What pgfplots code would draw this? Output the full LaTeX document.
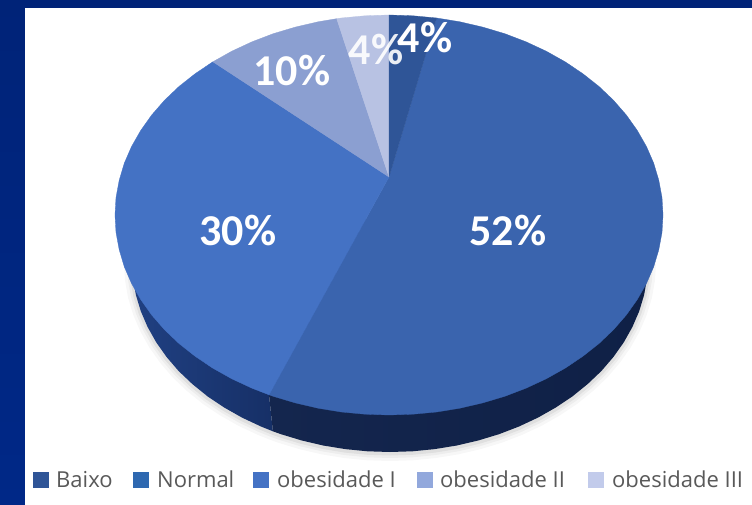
\documentclass[border=0pt]{standalone}
\usepackage{fontspec}
\setmainfont{Carlito}
\newfontfamily\legfont{Open Sans}
\usepackage{pgfplots}
\pgfplotsset{compat=1.18}
\usepackage{pgfplotstable}

\definecolor{navyA}{RGB}{0,35,120}
\definecolor{navyB}{RGB}{0,40,135}
\definecolor{cBaixo}{RGB}{47,85,151}
\definecolor{cNormal}{RGB}{58,100,174}
\definecolor{cObI}{RGB}{68,114,196}
\definecolor{cObII}{RGB}{139,159,209}
\definecolor{cObIII}{RGB}{184,194,227}
\definecolor{legNormal}{RGB}{46,104,176}
\definecolor{legII}{RGB}{146,168,220}
\definecolor{legIII}{RGB}{194,203,235}
\definecolor{sideL}{RGB}{32,64,130}
\definecolor{sideM}{RGB}{14,34,80}
\definecolor{sideR}{RGB}{20,38,78}
\definecolor{sideE}{RGB}{15,32,70}
\definecolor{legtxt}{RGB}{89,89,89}

% lower rim of the pie, pixel coordinates
\pgfplotstableread{
x y
132 262
133 278.6
135.9 295
140.8 311.2
147.6 327
156.2 342.3
166.6 357
178.6 371
192.4 384.1
207.6 396.4
224.2 407.5
242 417.6
261 426.5
272.9 431.3
281 434.2
301.8 440.5
323.2 445.5
345.2 449.1
367.5 451.3
390 452
412.5 451.3
434.8 449.1
456.8 445.5
478.2 440.5
499 434.2
519 426.5
538 417.6
555.8 407.5
572.4 396.4
587.6 384.1
601.4 371
613.4 357
623.8 342.3
632.4 327
639.2 311.2
644.1 295
647 278.6
648 262
}\rimtable

\newcommand{\pct}[1]{\fontsize{44}{44}\selectfont\bfseries #1}
\newcommand{\leg}[1]{\legfont\fontsize{22}{22}\selectfont #1}

\begin{document}
\begin{tikzpicture}
\begin{axis}[
    width=752pt, height=505pt, scale only axis,
    xmin=0, xmax=752, ymin=0, ymax=505,
    y dir=reverse, hide axis,
    every axis plot/.append style={line join=round},
]
% frame and panel
\addplot[draw=none, top color=navyA, bottom color=navyB] coordinates {(0,0)(752,0)(752,505)(0,505)} --cycle;
\addplot[draw=none, fill=white] coordinates {(25,8)(752,8)(752,505)(25,505)} --cycle;

% soft shadow under the rim
\addplot[draw=black, opacity=0.03, line width=16pt] table[x=x, y expr=\thisrow{y}+1] {\rimtable};
\addplot[draw=black, opacity=0.04, line width=10pt] table[x=x, y expr=\thisrow{y}+1] {\rimtable};
\addplot[draw=black, opacity=0.06, line width=5pt] table[x=x, y expr=\thisrow{y}+1] {\rimtable};

% side of the pie
\addplot[draw=none, left color=sideL, right color=sideM] coordinates {
 (389,215)(132,262)(133,278.6)(135.9,295)(140.8,311.2)(147.6,327)(156.2,342.3)(166.6,357)(178.6,371)(192.4,384.1)(207.6,396.4)(224.2,407.5)(242,417.6)(261,426.5)(272.9,431.3)(269,394.8)
} --cycle;
\addplot[draw=none, left color=sideR, right color=sideE] coordinates {
 (269,394.8)(272.9,431.3)(281,434.2)(301.8,440.5)(323.2,445.5)(345.2,449.1)(367.5,451.3)(390,452)(412.5,451.3)(434.8,449.1)(456.8,445.5)(478.2,440.5)(499,434.2)(519,426.5)(538,417.6)(555.8,407.5)(572.4,396.4)(587.6,384.1)(601.4,371)(613.4,357)(623.8,342.3)(632.4,327)(639.2,311.2)(644.1,295)(647,278.6)(648,262)(389,215)
} --cycle;

% top face: Normal
\addplot[fill=cNormal, draw=cNormal, line width=0.3pt] coordinates {
 (389,177)(436.6,18)(459.9,21.8)(482.7,27.1)(504.8,33.7)(526,41.8)(546.2,51.2)(565.1,61.8)(582.7,73.6)(598.9,86.4)(613.5,100.3)(626.3,115)(637.3,130.5)(646.5,146.6)(653.7,163.2)(658.8,180.3)(662,197.6)(663,215)
 (662,232.4)(658.8,249.7)(653.7,266.8)(646.5,283.4)(637.3,299.5)(626.3,315)(613.5,329.7)(598.9,343.6)(582.7,356.4)(565.1,368.2)(546.2,378.8)(526,388.2)(504.8,396.3)(482.7,402.9)(459.9,408.2)(436.6,412)(412.9,414.2)(389,415)(365.1,414.2)(341.4,412)(318.1,408.2)(295.3,402.9)(273.2,396.3)(269,394.8)
} --cycle;
% obesidade I
\addplot[fill=cObI, draw=cObI, line width=0.3pt] coordinates {
 (389,177)(269,394.8)(252,388.2)(231.8,378.8)(212.9,368.2)(195.3,356.4)(179.1,343.6)(164.5,329.7)(151.7,315)(140.7,299.5)(131.5,283.4)(124.3,266.8)(119.2,249.7)(116,232.4)(115,215)(116,197.6)(119.2,180.3)(124.3,163.2)(131.5,146.6)(140.7,130.5)(151.7,115)(164.5,100.3)(179.1,86.4)(195.3,73.6)(212.9,61.8)
} --cycle;
% obesidade II
\addplot[fill=cObII, draw=cObII, line width=0.3pt] coordinates {
 (389,177)(212.9,61.8)(231.8,51.2)(252,41.8)(273.2,33.7)(295.3,27.1)(318.1,21.8)(336.7,18.7)
} --cycle;
% obesidade III
\addplot[fill=cObIII, draw=cObIII, line width=0.3pt] coordinates {
 (389,177)(336.7,18.7)(341.4,18)(365.1,15.8)(389,15)
} --cycle;
% Baixo
\addplot[fill=cBaixo, draw=cBaixo, line width=0.3pt] coordinates {
 (389,177)(389,15)(412.9,15.8)(436.6,18)
} --cycle;

% value labels
\node[white] at (axis cs:508,231) {\pct{52\%}};
\node[white] at (axis cs:238,231) {\pct{30\%}};
\node[white] at (axis cs:292,71) {\pct{10\%}};
\node[white, opacity=0.9] at (axis cs:376,50) {\pct{4\%}};
\node[white] at (axis cs:425,38) {\pct{4\%}};

% legend
\addplot[fill=cBaixo, draw=none] coordinates {(33,472)(49,472)(49,488)(33,488)} --cycle;
\addplot[fill=legNormal, draw=none] coordinates {(133,472)(149,472)(149,488)(133,488)} --cycle;
\addplot[fill=cObI, draw=none] coordinates {(253,472)(269,472)(269,488)(253,488)} --cycle;
\addplot[fill=legII, draw=none] coordinates {(417,472)(433,472)(433,488)(417,488)} --cycle;
\addplot[fill=legIII, draw=none] coordinates {(588,472)(604,472)(604,488)(588,488)} --cycle;
\node[legtxt, anchor=base west, inner sep=0pt] at (axis cs:56,487) {\leg{Baixo}};
\node[legtxt, anchor=base west, inner sep=0pt] at (axis cs:157,487) {\leg{Normal}};
\node[legtxt, anchor=base west, inner sep=0pt] at (axis cs:277,487) {\leg{obesidade I}};
\node[legtxt, anchor=base west, inner sep=0pt] at (axis cs:440,487) {\leg{obesidade II}};
\node[legtxt, anchor=base west, inner sep=0pt] at (axis cs:612,487) {\leg{obesidade III}};
\end{axis}
\end{tikzpicture}
\end{document}
